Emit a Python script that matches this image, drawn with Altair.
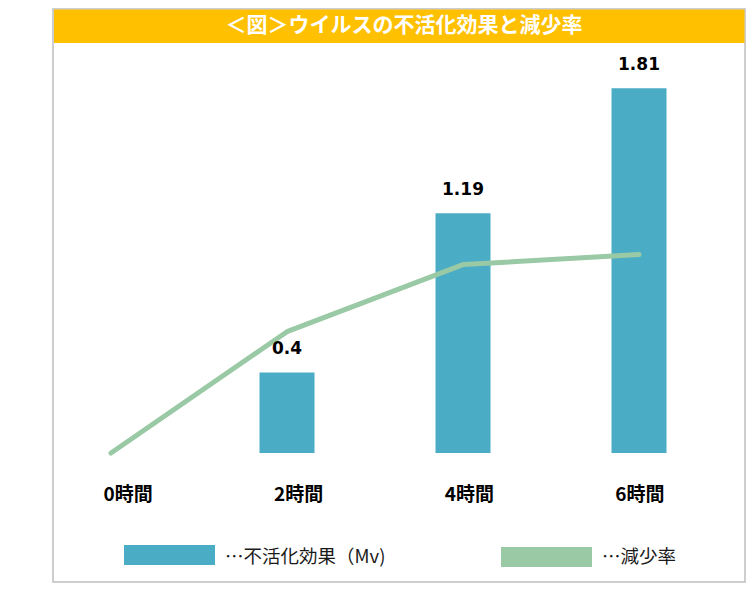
import altair as alt
import pandas as pd

categories = ["0時間", "2時間", "4時間", "6時間"]
mv_values = [0, 0.4, 1.19, 1.81]
mv_labels = ["", "0.4", "1.19", "1.81"]
rate_values = [0, 60.2, 93.5, 98.5]
title_text = "＜図＞ウイルスの不活化効果と減少率"
legend_labels = ["…不活化効果（Mv)", "…減少率"]

BAR_COLOR = "#4BACC6"
LINE_COLOR = "#9AC9A5"
JP_FONT = "Noto Sans CJK JP"

df = pd.DataFrame({"cat": categories, "mv": mv_values, "label": mv_labels, "rate": rate_values})
one = pd.DataFrame({"k": [0]})

x_enc = alt.X("cat:N", sort=categories,
              scale=alt.Scale(paddingInner=0, paddingOuter=0), axis=None)
x_lab = alt.X("cat:N", sort=categories,
              scale=alt.Scale(paddingInner=0, paddingOuter=0, range=[19.7, 702.3]), axis=None)
y_scale = alt.Scale(domain=[0, 2], nice=False, zero=True)

frame = alt.Chart(one).mark_rect(fill="white", stroke="#BFBFBF", strokeWidth=1.5).encode(
    x=alt.value(30), x2=alt.value(722), y=alt.value(-41), y2=alt.value(532))
title_bar = alt.Chart(one).mark_rect(fill="#FFC000").encode(
    x=alt.value(31), x2=alt.value(721.5), y=alt.value(-40.5), y2=alt.value(-7))
title = alt.Chart(one).mark_text(font=JP_FONT, fontSize=21, fontWeight="bold",
                                 color="white", baseline="middle", align="center").encode(
    x=alt.value(381), y=alt.value(-24), text=alt.value(title_text))

base = alt.Chart(df)
bars = base.mark_bar(size=55, color=BAR_COLOR).encode(
    x=x_enc, y=alt.Y("mv:Q", scale=y_scale, axis=None))
line = base.transform_calculate(r="datum.rate / 100").mark_line(
    color=LINE_COLOR, strokeWidth=5, strokeCap="round", strokeJoin="round").encode(
    x=x_enc, y=alt.Y("r:Q", scale=y_scale, axis=None))
values = base.transform_filter("datum.mv > 0").mark_text(
    font="DejaVu Sans", fontSize=17, fontWeight="bold", color="black",
    baseline="bottom", dy=-14).encode(
    x=x_enc, y=alt.Y("mv:Q", scale=y_scale, axis=None), text="label:N")
main = alt.layer(bars, line, values)

cat_labels = base.mark_text(font=JP_FONT, fontSize=19, fontWeight="bold", color="black",
                            baseline="middle").encode(
    x=x_lab, y=alt.value(445), text="cat:N")

leg_sw1 = alt.Chart(one).mark_rect(fill=BAR_COLOR).encode(
    x=alt.value(101), x2=alt.value(192), y=alt.value(495), y2=alt.value(515))
leg_tx1 = alt.Chart(one).mark_text(font=JP_FONT, fontSize=18.5, color="#1A1A1A",
                                   align="left", baseline="middle").encode(
    x=alt.value(202), y=alt.value(507), text=alt.value(legend_labels[0]))
leg_sw2 = alt.Chart(one).mark_rect(fill=LINE_COLOR).encode(
    x=alt.value(478), x2=alt.value(569), y=alt.value(497), y2=alt.value(517))
leg_tx2 = alt.Chart(one).mark_text(font=JP_FONT, fontSize=18.5, color="#1A1A1A",
                                   align="left", baseline="middle").encode(
    x=alt.value(579), y=alt.value(507), text=alt.value(legend_labels[1]))

chart = alt.layer(frame, title_bar, title, main, cat_labels,
                  leg_sw1, leg_tx1, leg_sw2, leg_tx2).resolve_scale(x="independent").properties(
    width=704, height=403,
    autosize=alt.AutoSizeParams(type="none"),
    padding={"left": 15, "top": 42, "right": 19, "bottom": 130},
).configure_view(strokeWidth=0)

chart.save("out.html", embed_options={"renderer": "svg", "actions": False})
